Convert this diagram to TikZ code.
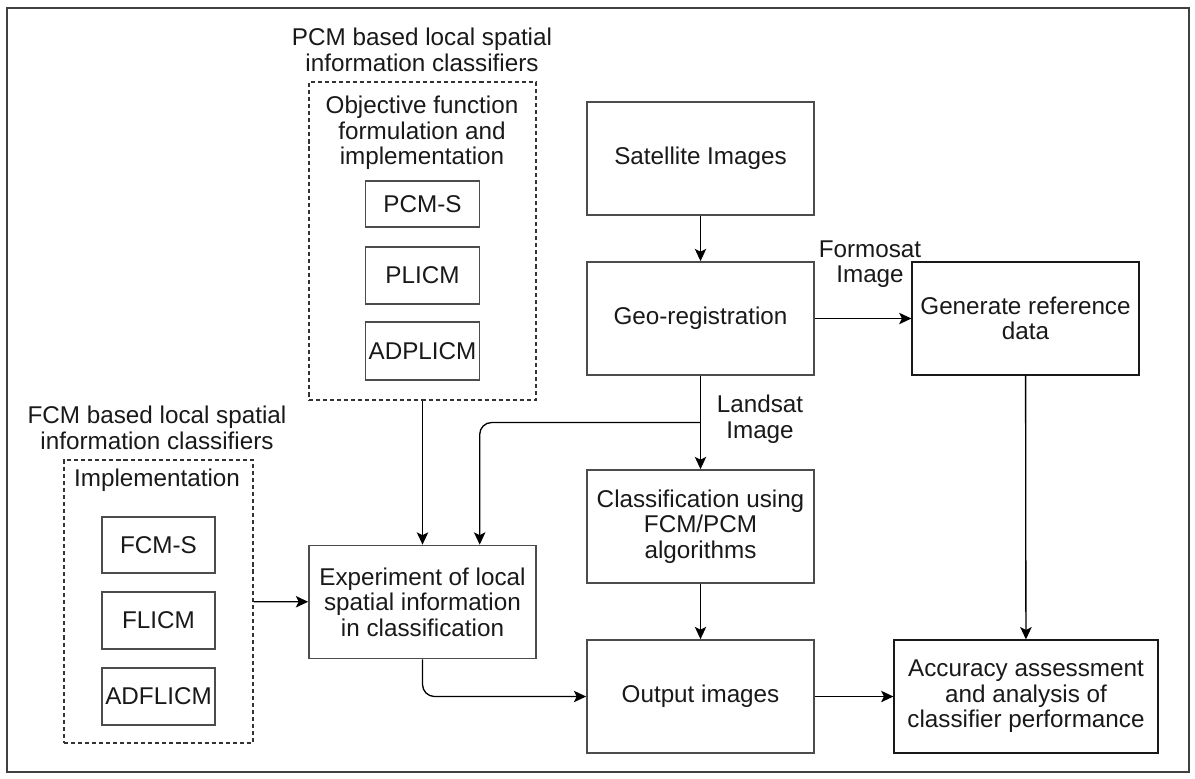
\documentclass[tikz,border=0pt]{standalone}
\usepackage{fontspec}
\setmainfont{Liberation Sans}
\usepackage{tikz}
\usetikzlibrary{arrows.meta,calc}

\tikzset{
  txt/.style={align=center, text=black!90, font=\fontsize{13.8}{14.6}\selectfont, inner sep=0pt},
  box/.style={txt, draw=black!70, line width=1pt, minimum width=4.54cm, minimum height=2.26cm},
  thinbox/.style={box, draw=black!90, line width=0.7pt},
  smallbox/.style={box, minimum width=2.28cm},
  grp/.style={draw=black!80, line width=0.65pt, dash pattern=on 2.3pt off 1.7pt, inner sep=0pt},
  arr/.style={-{Stealth[length=7pt,width=6.5pt,inset=1.6pt]}, line width=0.75pt, black},
}

\begin{document}
\begin{tikzpicture}[x=0.02cm, y=-0.02cm]
\useasboundingbox (0,0) rectangle (1195,778);
\draw[draw=black!75, line width=0.85pt] (7,8) rectangle (1189,772);

% PCM group
\node[grp, minimum width=4.54cm, minimum height=6.36cm] (pcmgrp) at (422.5,241) {};
\node[txt] (pcmttl) at (422,50) {PCM based local spatial\\information classifiers};
\node[txt] (pcmhd) at (422,133) {Objective function\\formulation and\\implementation};
\foreach \nm/\y/\h [count=\i] in {PCM-S/204/0.92, PLICM/275.5/1.14, ADPLICM/351/1.16}{
\node[smallbox, minimum height=\h cm] (p\i) at (422.5,\y) {\nm};
}

% FCM group
\node[grp, minimum width=3.78cm, minimum height=5.66cm] (fcmgrp) at (158.5,601.5) {};
\node[txt] (fcmttl) at (157,428) {FCM based local spatial\\information classifiers};
\node[txt] (fcmhd) at (157,480) {Implementation};
\foreach \nm/\y [count=\i] in {FCM-S/545, FLICM/620.5, ADFLICM/696.5}{
\node[smallbox, minimum width=2.26cm, minimum height=1.13cm] (f\i) at (158.5,\y) {\nm};
}

% main flow
\node[box] (sat) at (700.5,158.5) {Satellite Images};
\node[box] (geo) at (700.5,318.5) {Geo-registration};
\node[thinbox] (gen) at (1025.5,318.5) {Generate reference\\data};
\node[box] (cls) at (700.5,526.5) {Classification using\\FCM/PCM\\algorithms};
\node[box] (exp) at (422.5,602) {Experiment of local\\spatial information\\in classification};
\node[box] (out) at (700.5,696.5) {Output images};
\node[thinbox, minimum width=5.28cm] (acc) at (1026,696.5) {Accuracy assessment\\and analysis of\\classifier performance};

\node[txt] (formosat) at (870,264) {Formosat\\Image};
\node[txt] (landsat) at (760,419) {Landsat\\Image};

\draw[arr] (sat) -- (geo);
\draw[arr] (geo) -- (gen);
\draw[arr] (geo) -- (cls);
\draw[arr] (gen) -- (acc);
\draw[arr] (cls) -- (out);
\draw[arr] (out) -- (acc);
\draw[arr] (fcmgrp) -- (exp);
\draw[arr] (pcmgrp) -- (exp);
\coordinate (split) at ($(geo.south)!0.5!(cls.north)$);
\draw[arr, rounded corners=6.8pt] (split) -| ($(exp.north)!0.5!(exp.north east)$);
\draw[arr, rounded corners=6.8pt] (exp) |- (out);
\end{tikzpicture}
\end{document}
